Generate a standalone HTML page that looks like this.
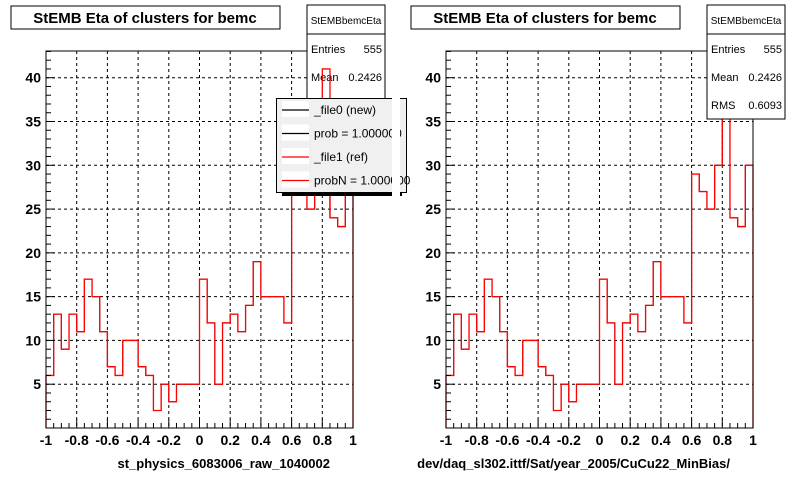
<!DOCTYPE html>
<html><head><meta charset="utf-8"><style>
body{margin:0;background:#fff;}
svg{display:block;font-family:"Liberation Sans",Arial,sans-serif;}
</style></head><body>
<svg id="c" width="800" height="480" viewBox="0 0 800 480"></svg>
<script>
const binEdgesStart = -1;
const binWidth = 0.05;
const counts = [6,13,9,13,11,17,15,11,7,6,10,10,7,6,2,5,3,5,5,5,17,12,5,12,13,11,14,19,15,15,15,12,29,27,25,30,41,24,23,30];
const xTicks = [-1,-0.8,-0.6,-0.4,-0.2,0,0.2,0.4,0.6,0.8,1];
const xTickLabels = ["-1","-0.8","-0.6","-0.4","-0.2","0","0.2","0.4","0.6","0.8","1"];
const yTicks = [5,10,15,20,25,30,35,40];
const statsVals = ["555","0.2426","0.6093"];
const NS="http://www.w3.org/2000/svg";
const svg=document.getElementById('c');
function mk(t,a,p){const e=document.createElementNS(NS,t);for(const k in a)e.setAttribute(k,a[k]);(p||svg).appendChild(e);return e;}
function panel(ox,xlabel,showRms,showLegend){
  const g=mk('g',{});
  
  
  const L=ox+46,R=ox+353,T=51,B=428,ymax=43.05;
  const X=v=>L+(v+1)/2*(R-L);
  const Y=v=>B-v/ymax*(B-T);
  // grid
  xTicks.forEach(v=>{if(v>-1&&v<1){const l=mk('line',{x1:X(v),x2:X(v),y1:T,y2:B,stroke:'#000','stroke-dasharray':'3,3','stroke-width':1},g);}});
  yTicks.forEach(v=>{const l=mk('line',{x1:L,x2:R,y1:Y(v),y2:Y(v),stroke:'#000','stroke-dasharray':'3,3','stroke-width':1},g);});
  // histograms
  let d='M'+X(-1)+','+B;
  counts.forEach((c,i)=>{const x0=X(binEdgesStart+i*binWidth),x1=X(binEdgesStart+(i+1)*binWidth);d+=' L'+x0+','+Y(c)+' L'+x1+','+Y(c);});
  d+=' L'+X(1)+','+B;
  const hb=mk('path',{d:d,fill:'none',stroke:'#000','stroke-width':1},g);
  
  const hr=mk('path',{d:d,fill:'none',stroke:'#f00','stroke-width':1.3},g);
  
  // frame
  const fr=mk('rect',{x:L,y:T,width:R-L,height:B-T,fill:'none',stroke:'#000','stroke-width':1},g);
  
  // y ticks
  for(let v=1;v<=43;v++){const len=v%5===0?9:5;mk('line',{x1:L,x2:L+len,y1:Y(v),y2:Y(v),stroke:'#000'},g);}
  yTicks.forEach(v=>{const t=mk('text',{x:L-5,y:Y(v)+5,'text-anchor':'end','font-size':14,'font-weight':'bold'},g);t.textContent=v;});
  // x ticks
  for(let i=0;i<=40;i++){const v=-1+i*0.05;const len=i%4===0?9:5;mk('line',{x1:X(v),x2:X(v),y1:B,y2:B-len,stroke:'#000'},g);}
  xTicks.forEach((v,i)=>{const t=mk('text',{x:X(v),y:B+17,'text-anchor':'middle','font-size':14,'font-weight':'bold'},g);t.textContent=xTickLabels[i];});
  const xl=mk('text',{x:R-23,y:468,'text-anchor':'end','font-size':13,'font-weight':'bold'},g);xl.textContent=xlabel;
  
  // title
  const tb=mk('rect',{x:ox+11,y:6,width:269,height:23,fill:'#fff',stroke:'#000'},g);
  
  const tt=mk('text',{x:ox+145,y:23,'text-anchor':'middle','font-size':15,'font-weight':'bold'},g);tt.textContent='StEMB Eta of clusters for bemc';
  
  // stats
  const sx=ox+307,sw=78,sh=showRms?114:114;
  const sb=mk('rect',{x:sx,y:5,width:sw,height:sh,fill:'#fff',stroke:'#000'},g);
  
  mk('line',{x1:sx,x2:sx+sw,y1:34,y2:34,stroke:'#000'},g);
  const sn=mk('text',{x:sx+sw/2,y:24,'text-anchor':'middle','font-size':10},g);sn.textContent='StEMBbemcEta';
  
  [['Entries',statsVals[0],53],['Mean',statsVals[1],81],['RMS',statsVals[2],109]].forEach(r=>{
    const a=mk('text',{x:sx+4,y:r[2],'font-size':11},g);a.textContent=r[0];
    const b=mk('text',{x:sx+sw-3,y:r[2],'text-anchor':'end','font-size':11},g);b.textContent=r[1];
  });
  if(showLegend){
    // redraw ref peak over stats box? (peak visible inside stats) 
    const i=36;const x0=X(binEdgesStart+i*binWidth),x1=X(binEdgesStart+(i+1)*binWidth);
    const pk=mk('path',{d:'M'+x0+','+Y(counts[35])+' L'+x0+','+Y(counts[i])+' L'+x1+','+Y(counts[i])+' L'+x1+','+Y(counts[37]),fill:'none',stroke:'#f00','stroke-width':1.3},g);
    
    mk('rect',{x:282,y:192,width:120,height:4,fill:'#000'},g);
    const lg=mk('rect',{x:276.5,y:98.5,width:130,height:94,fill:'#f0f0f0',stroke:'#000'},g);
    
    [['_file0 (new)','#000'],['prob = 1.000000','#000'],['_file1 (ref)','#f00'],['probN = 1.000000','#f00']].forEach((e,k)=>{
      const y=109+k*23.5;
      mk('rect',{x:282,y:y-8,width:27,height:16,fill:'#fff'},g);
      const ln=mk('line',{x1:282,x2:309,y1:y+1,y2:y+1,stroke:e[1],'stroke-width':1.3},g);
      
      const t=mk('text',{x:314,y:y+5,'font-size':12},g);t.textContent=e[0];
      
    });
    mk('rect',{x:392,y:90,width:8,height:110,fill:'#fff'},g);
  }
}
panel(0,'st_physics_6083006_raw_1040002',true,true);
panel(400,'dev/daq_sl302.ittf/Sat/year_2005/CuCu22_MinBias/',true,false);
</script>
</body></html>
